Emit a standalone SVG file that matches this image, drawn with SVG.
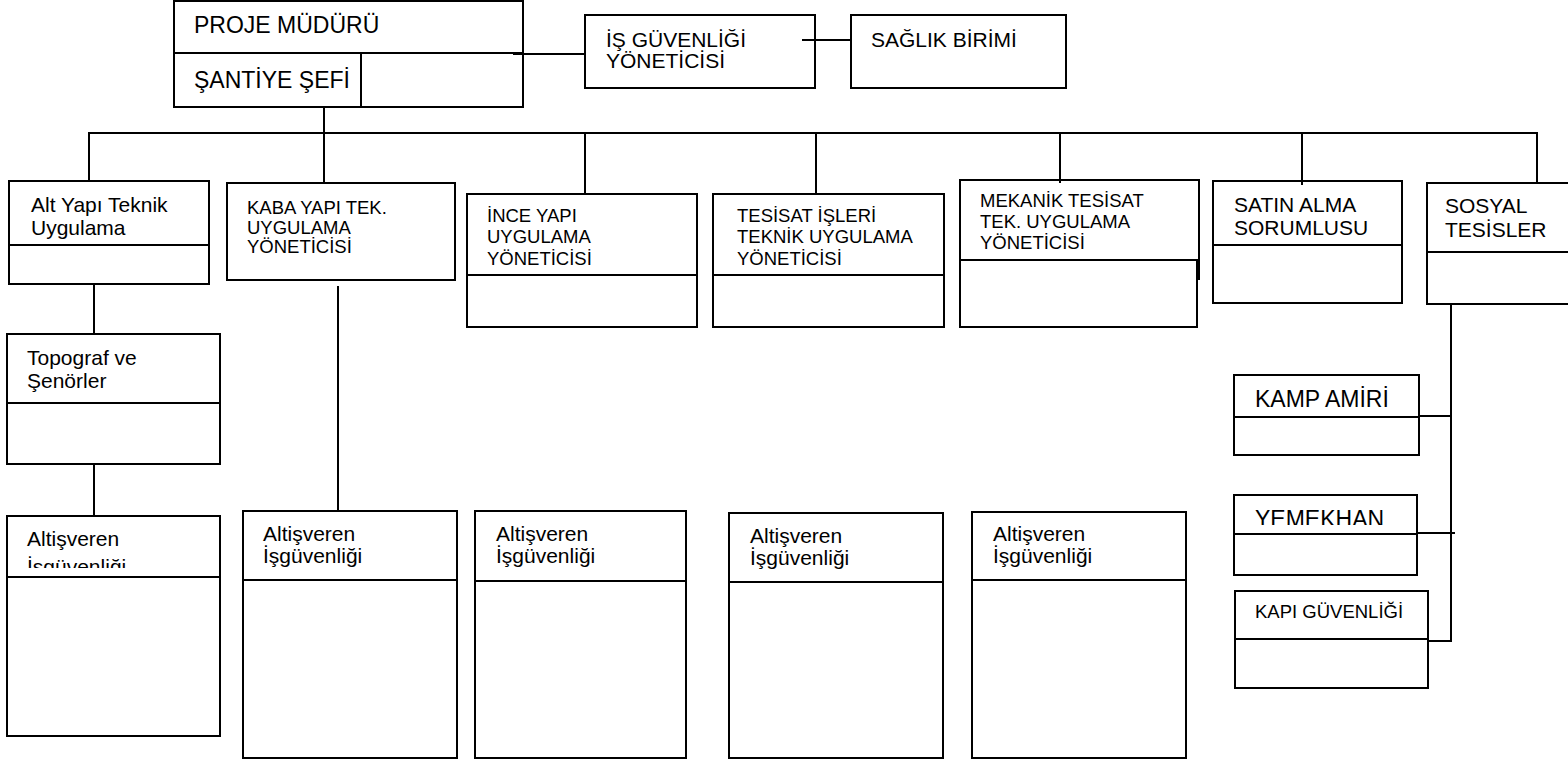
<svg xmlns="http://www.w3.org/2000/svg" width="1568" height="765" viewBox="0 0 1568 765">
<style>
.b{fill:#fff;stroke:#000;stroke-width:2}
.l{fill:none;stroke:#000;stroke-width:2}
text{font-family:"Liberation Sans",Arial,sans-serif;fill:#000}
.f23{font-size:23px}
.f21{font-size:21px}
.f18{font-size:18.5px}
</style>
<defs>
<clipPath id="c1"><rect x="7" y="516" width="213" height="52"/></clipPath>
<clipPath id="c2"><rect x="1234" y="495" width="183" height="30"/></clipPath>
</defs>
<rect width="1568" height="765" fill="#fff"/>
<g id="proje-mudurru">
<rect class="b" x="174" y="1" width="349" height="106"/>
<line class="l" x1="174" y1="53" x2="523" y2="53"/>
<line class="l" x1="361" y1="53" x2="361" y2="107"/>
<text class="f23" x="194" y="33">PROJE MÜDÜRÜ</text>
<text class="f23" x="194" y="88">ŞANTİYE ŞEFİ</text>
</g>
<g id="is-guvenligi">
<rect class="b" x="585" y="15" width="230" height="73"/>
<text class="f21" x="606" y="47">İŞ GÜVENLİĞİ</text>
<text class="f21" x="606" y="68">YÖNETİCİSİ</text>
</g>
<g id="saglik">
<rect class="b" x="851" y="15" width="215" height="73"/>
<text class="f21" x="871" y="47">SAĞLIK BİRİMİ</text>
</g>
<g id="alt-yapi">
<rect class="b" x="9" y="181" width="200" height="103"/>
<line class="l" x1="9" y1="245" x2="209" y2="245"/>
<text class="f21" x="31" y="212">Alt Yapı Teknik</text>
<text class="f21" x="31" y="235">Uygulama</text>
</g>
<g id="kaba-yapi">
<rect class="b" x="227" y="183" width="228" height="97"/>
<text class="f18" x="247" y="214">KABA YAPI TEK.</text>
<text class="f18" x="247" y="234">UYGULAMA</text>
<text class="f18" x="247" y="253">YÖNETİCİSİ</text>
</g>
<g id="ince-yapi">
<rect class="b" x="467" y="194" width="230" height="133"/>
<line class="l" x1="467" y1="275" x2="697" y2="275"/>
<text class="f18" x="487" y="222">İNCE YAPI</text>
<text class="f18" x="487" y="243">UYGULAMA</text>
<text class="f18" x="487" y="265">YÖNETİCİSİ</text>
</g>
<g id="tesisat">
<rect class="b" x="713" y="194" width="231" height="133"/>
<line class="l" x1="713" y1="275" x2="944" y2="275"/>
<text class="f18" x="737" y="222">TESİSAT İŞLERİ</text>
<text class="f18" x="737" y="243">TEKNİK UYGULAMA</text>
<text class="f18" x="737" y="265">YÖNETİCİSİ</text>
</g>
<g id="mekanik">
<rect class="b" x="960" y="180" width="239" height="99"/>
<rect class="b" x="960" y="260" width="237" height="67"/>
<text class="f18" x="980" y="207">MEKANİK TESİSAT</text>
<text class="f18" x="980" y="228">TEK. UYGULAMA</text>
<text class="f18" x="980" y="249">YÖNETİCİSİ</text>
</g>
<g id="satin-alma">
<rect class="b" x="1213" y="181" width="189" height="122"/>
<line class="l" x1="1213" y1="245" x2="1402" y2="245"/>
<text class="f21" x="1234" y="212">SATIN ALMA</text>
<text class="f21" x="1234" y="235">SORUMLUSU</text>
</g>
<g id="sosyal">
<rect class="b" x="1427" y="183" width="160" height="121"/>
<line class="l" x1="1427" y1="252" x2="1568" y2="252"/>
<text class="f21" x="1445" y="213">SOSYAL</text>
<text class="f21" x="1445" y="237">TESİSLER</text>
</g>
<g id="topograf">
<rect class="b" x="7" y="334" width="213" height="130"/>
<line class="l" x1="7" y1="403" x2="220" y2="403"/>
<text class="f21" x="27" y="365">Topograf ve</text>
<text class="f21" x="27" y="388">Şenörler</text>
</g>
<g id="altisveren-1">
<rect class="b" x="7" y="516" width="213" height="220"/>
<line class="l" x1="7" y1="577" x2="220" y2="577"/>
<g clip-path="url(#c1)">
<text class="f21" x="27" y="546">Altişveren</text>
<text class="f21" x="27" y="574">İşgüvenliği</text>
</g>
</g>
<g id="altisveren-2">
<rect class="b" x="243" y="511" width="214" height="247"/>
<line class="l" x1="243" y1="580" x2="457" y2="580"/>
<text class="f21" x="263" y="541">Altişveren</text>
<text class="f21" x="263" y="563">İşgüvenliği</text>
</g>
<g id="altisveren-3">
<rect class="b" x="475" y="511" width="211" height="247"/>
<line class="l" x1="475" y1="581" x2="686" y2="581"/>
<text class="f21" x="496" y="541">Altişveren</text>
<text class="f21" x="496" y="563">İşgüvenliği</text>
</g>
<g id="altisveren-4">
<rect class="b" x="729" y="513" width="214" height="245"/>
<line class="l" x1="729" y1="582" x2="943" y2="582"/>
<text class="f21" x="750" y="543">Altişveren</text>
<text class="f21" x="750" y="565">İşgüvenliği</text>
</g>
<g id="altisveren-5">
<rect class="b" x="972" y="512" width="214" height="246"/>
<line class="l" x1="972" y1="580" x2="1186" y2="580"/>
<text class="f21" x="993" y="541">Altişveren</text>
<text class="f21" x="993" y="563">İşgüvenliği</text>
</g>
<g id="kamp-amiri">
<rect class="b" x="1234" y="375" width="185" height="80"/>
<line class="l" x1="1234" y1="417" x2="1419" y2="417"/>
<text class="f23" x="1255" y="407">KAMP AMİRİ</text>
</g>
<g id="yemekhane">
<rect class="b" x="1234" y="495" width="183" height="80"/>
<line class="l" x1="1234" y1="534" x2="1417" y2="534"/>
<g clip-path="url(#c2)"><text class="f23" x="1255" y="527">YEMEKHAN</text></g>
</g>
<g id="kapi-guvenligi">
<rect class="b" x="1235" y="591" width="193" height="97"/>
<line class="l" x1="1235" y1="639" x2="1428" y2="639"/>
<text class="f18" x="1255" y="618">KAPI GÜVENLİĞİ</text>
</g>
<g id="connectors">
<line class="l" x1="513" y1="54" x2="585" y2="54"/>
<line class="l" x1="802" y1="40" x2="851" y2="40"/>
<line class="l" x1="324" y1="107" x2="324" y2="183"/>
<line class="l" x1="88" y1="133" x2="1537" y2="133"/>
<line class="l" x1="89" y1="133" x2="89" y2="181"/>
<line class="l" x1="585" y1="133" x2="585" y2="194"/>
<line class="l" x1="816" y1="133" x2="816" y2="194"/>
<line class="l" x1="1060" y1="133" x2="1060" y2="183"/>
<line class="l" x1="1302" y1="133" x2="1302" y2="185"/>
<line class="l" x1="1537" y1="132" x2="1537" y2="183"/>
<line class="l" x1="94" y1="284" x2="94" y2="334"/>
<line class="l" x1="94" y1="464" x2="94" y2="516"/>
<line class="l" x1="338" y1="286" x2="338" y2="511"/>
<line class="l" x1="1451" y1="304" x2="1451" y2="641"/>
<line class="l" x1="1419" y1="416" x2="1451" y2="416"/>
<line class="l" x1="1417" y1="533" x2="1455" y2="533"/>
<line class="l" x1="1428" y1="641" x2="1452" y2="641"/>
</g>
</svg>
